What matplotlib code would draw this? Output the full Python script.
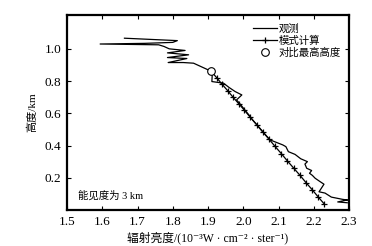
import matplotlib
matplotlib.use("Agg")
import matplotlib.pyplot as plt

FAM = ['Liberation Serif', 'Noto Sans CJK SC', 'DejaVu Sans']
plt.rcParams['font.family'] = FAM

# Observed radiance (x) vs height (km), from bottom to top
obs_x = [2.295, 2.268, 2.285, 2.296, 2.282, 2.250, 2.232, 2.215, 2.229, 2.218,
         2.204, 2.196, 2.188, 2.194, 2.180, 2.175, 2.182, 2.163, 2.147, 2.128,
         2.121, 2.112, 2.076, 2.065, 2.052, 2.040, 2.028, 2.016, 2.004, 1.992,
         1.981, 1.996, 1.977, 1.960, 1.944, 1.911, 1.912, 1.905, 1.880, 1.859,
         1.830, 1.787, 1.840, 1.785, 1.845, 1.785, 1.835, 1.790, 1.775, 1.760,
         1.594, 1.720, 1.800, 1.813, 1.663]
obs_h = [0.045, 0.050, 0.058, 0.062, 0.066, 0.080, 0.105, 0.113, 0.160, 0.176,
         0.197, 0.215, 0.228, 0.245, 0.259, 0.285, 0.300, 0.318, 0.345, 0.362,
         0.393, 0.404, 0.435, 0.462, 0.495, 0.525, 0.555, 0.590, 0.622, 0.655,
         0.683, 0.714, 0.735, 0.760, 0.787, 0.797, 0.840, 0.865, 0.890, 0.911,
         0.915, 0.915, 0.940, 0.946, 0.963, 0.975, 0.990, 1.000, 1.015, 1.025,
         1.030, 1.034, 1.040, 1.051, 1.066]

# Model calculation
mod_x = [1.908, 1.925, 1.940, 1.956, 1.971, 1.987, 2.003, 2.020, 2.038, 2.055,
         2.073, 2.090, 2.108, 2.125, 2.143, 2.161, 2.178, 2.196, 2.213, 2.230]
mod_h = [0.863, 0.820, 0.780, 0.740, 0.700, 0.660, 0.620, 0.575, 0.530, 0.485,
         0.440, 0.395, 0.350, 0.305, 0.260, 0.215, 0.170, 0.125, 0.080, 0.037]

# Highest comparison height
cmp_x = [1.908]
cmp_h = [0.863]

x_ticks = [1.5, 1.6, 1.7, 1.8, 1.9, 2.0, 2.1, 2.2, 2.3]
y_ticks = [0.2, 0.4, 0.6, 0.8, 1.0]

fig = plt.figure(figsize=(3.72, 2.46), dpi=100)
ax = fig.add_axes([67/372, 1 - 210/246, (349-67)/372, (210-15)/246])

ax.plot(obs_x, obs_h, color='black', lw=0.9, label='观测')
ax.plot(mod_x, mod_h, color='black', lw=0.9, marker='+', ms=4.5, mew=0.9, label='模式计算')
ax.plot(cmp_x, cmp_h, ls='none', marker='o', ms=5.5, mfc='white', mec='black', mew=0.8,
        label='对比最高高度')

ax.set_xlim(1.5, 2.3)
ax.set_ylim(0, 1.21)
ax.set_xticks(x_ticks)
ax.set_xticklabels([f"{v:.1f}" for v in x_ticks])
ax.set_yticks(y_ticks)
ax.set_yticklabels([f"{v:.1f}" for v in y_ticks])
ax.tick_params(direction='in', top=True, right=True, length=3, width=0.8,
               labelsize=9.5, pad=4)
for s in ax.spines.values():
    s.set_linewidth(1.6)

ax.set_xlabel('辐射亮度/(10⁻³W · cm⁻² · ster⁻¹)', fontsize=8.5, labelpad=3, family=FAM)
ax.set_ylabel('高度/km', fontsize=8, labelpad=5, family=FAM)

ax.text(0.04, 0.05, '能见度为 3 km', transform=ax.transAxes, fontsize=7.5,
        ha='left', va='bottom', family=FAM)

leg = ax.legend(loc='upper right', bbox_to_anchor=(0.998, 0.995), frameon=False,
                prop={'family': FAM, 'size': 7.5},
                handlelength=2.3, handletextpad=0.2, labelspacing=0.2, borderpad=0.2)

fig.savefig('out.png', dpi=100)
